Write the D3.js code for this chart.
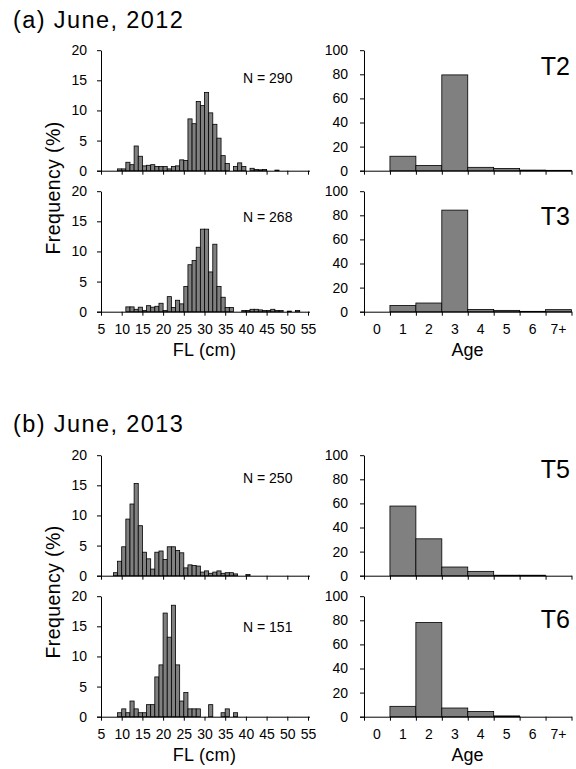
<!DOCTYPE html>
<html>
<head>
<meta charset="utf-8">
<script src="https://cdn.jsdelivr.net/npm/d3@7"></script>
<style>
    body { margin: 0; background: #fff; }
    text { font-family: "Liberation Sans", Arial, sans-serif; fill: #000; }
</style>
</head>
<body>
<div id="chart"></div>
<script>
// 体长组（cm，每组1cm，起点）
let binStart = [5, 6, 7, 8, 9, 10, 11, 12, 13, 14, 15, 16, 17, 18, 19, 20, 21, 22, 23, 24,
    25, 26, 27, 28, 29, 30, 31, 32, 33, 34, 35, 36, 37, 38, 39, 40, 41, 42, 43, 44,
    45, 46, 47, 48, 49, 50, 51, 52, 53, 54];
let flTicks = [5, 10, 15, 20, 25, 30, 35, 40, 45, 50, 55];
let freqTicks = [0, 5, 10, 15, 20];
let ageTicks = [0, 20, 40, 60, 80, 100];
let ages = ['0', '1', '2', '3', '4', '5', '6', '7+'];

// 体长频率 (%)
let flT2 = [0, 0, 0, 0, 0.3, 0.3, 1.4, 1.0, 4.1, 2.4, 0.8, 0.9, 1.0, 0.7, 0.7, 0.7, 0.3, 0.7, 0.8, 1.8,
    1.7, 8.6, 7.8, 11.5, 10.8, 13.0, 9.6, 7.7, 5.4, 2.5, 1.2, 0, 0.7, 1.3, 0.7, 0, 0.4, 0.2, 0.15, 0.2,
    0, 0, 0.1, 0, 0, 0, 0, 0, 0, 0];
let flT3 = [0, 0, 0, 0, 0, 0, 0.8, 0.8, 0.4, 0.75, 0.2, 1.0, 0.75, 0.9, 1.4, 0.2, 2.5, 0.7, 1.9, 1.3,
    4.2, 7.8, 8.5, 10.7, 13.7, 13.7, 6.6, 11.2, 4.2, 2.4, 0.7, 0.7, 0, 0, 0.2, 0.2, 0.4, 0.4, 0.3, 0.2,
    0.2, 0.4, 0.2, 0.2, 0, 0.1, 0, 0.2, 0, 0];
let flT5 = [0, 0, 0, 0.5, 2.4, 4.8, 9.4, 11.9, 15.3, 8.3, 3.9, 2.8, 1.1, 3.9, 4.1, 2.7, 4.8, 4.8, 4.2, 3.8,
    1.3, 1.8, 1.7, 1.6, 0.6, 0.8, 0.4, 0.6, 0.8, 0.4, 0.5, 0.5, 0.3, 0, 0, 0.2, 0, 0, 0, 0,
    0, 0, 0, 0, 0, 0, 0, 0, 0, 0];
let flT6 = [0, 0, 0, 0, 0.66, 1.3, 0.66, 2.6, 1.3, 0.66, 0.66, 2.0, 2.0, 6.6, 8.6, 17.2, 13.2, 18.5, 8.6, 2.6,
    4.0, 1.3, 1.3, 1.3, 0, 0, 2.0, 0, 0, 0.66, 1.3, 0, 0.66, 0, 0, 0, 0, 0, 0, 0,
    0, 0, 0, 0, 0, 0, 0, 0, 0, 0];

// 年龄组成 (%)
let ageT2 = [0, 12.0, 4.4, 79.5, 2.8, 1.9, 0.5, 0.3];
let ageT3 = [0, 5.2, 7.2, 84.3, 1.9, 1.1, 0.3, 1.7];
let ageT5 = [0, 57.8, 30.6, 7.2, 3.6, 0.4, 0.4, 0];
let ageT6 = [0, 8.6, 78.2, 7.2, 4.4, 0.66, 0, 0];

let width = 576, height = 769;
let svg = d3.select('#chart').append('svg')
    .attr('width', width)
    .attr('height', height);

let panelH = 120.5;
let xFL = d3.scaleLinear().domain([5, 55]).range([101, 308]);
let xAgeLin = d3.scaleLinear().domain([0, 8]).range([364, 571.5]);
let xAge = d3.scaleBand().domain(ages).range([364, 571.5]);

let barFill = '#808080';

function styleAxis(g, size) {
    g.selectAll('path, line').attr('stroke', '#000').attr('stroke-width', 1);
    g.selectAll('text').attr('font-size', size).attr('font-family', '"Liberation Sans", Arial, sans-serif');
}

//画左侧体长直方图
function drawHist(base, values, n, nY, showLabels) {
    let y = d3.scaleLinear().domain([0, 20]).range([base, base - panelH]);
    let g = svg.append('g');
    let data = binStart.map((b, i) => ({b: b, v: values[i]})).filter(d => d.v > 0);
    g.selectAll('rect').data(data).enter().append('rect')
        .attr('x', d => xFL(d.b))
        .attr('width', d => xFL(d.b + 1) - xFL(d.b))
        .attr('y', d => y(d.v))
        .attr('height', d => base - y(d.v))
        .attr('fill', barFill)
        .attr('stroke', '#000')
        .attr('stroke-width', 0.8);
    let ya = g.append('g').attr('transform', 'translate(101,0)')
        .call(d3.axisLeft(y).tickValues(freqTicks).tickSize(4).tickSizeOuter(0).tickPadding(10));
    styleAxis(ya, 14);
    let xa = g.append('g').attr('transform', 'translate(0,' + base + ')')
        .call(d3.axisBottom(xFL).tickValues(flTicks).tickSize(4).tickSizeOuter(0).tickPadding(8)
            .tickFormat(showLabels ? d3.format('d') : ''));
    xa.select('.domain').attr('d', 'M97,0.5H310');
    styleAxis(xa, 14);
    g.append('text').attr('x', 243).attr('y', nY)
        .attr('dominant-baseline', 'central')
        .attr('font-size', 14)
        .text('N = ' + n);
}

//画右侧年龄组成柱状图
function drawAge(base, values, label, tY, showLabels) {
    let y = d3.scaleLinear().domain([0, 100]).range([base, base - panelH]);
    let g = svg.append('g');
    let data = ages.map((a, i) => ({a: a, v: values[i]})).filter(d => d.v > 0);
    g.selectAll('rect').data(data).enter().append('rect')
        .attr('x', d => xAge(d.a))
        .attr('width', xAge.bandwidth())
        .attr('y', d => y(d.v))
        .attr('height', d => base - y(d.v))
        .attr('fill', barFill)
        .attr('stroke', '#000')
        .attr('stroke-width', 0.8);
    let ya = g.append('g').attr('transform', 'translate(364,0)')
        .call(d3.axisLeft(y).tickValues(ageTicks).tickSize(4).tickSizeOuter(0).tickPadding(12));
    styleAxis(ya, 14);
    let xa = g.append('g').attr('transform', 'translate(0,' + base + ')')
        .call(d3.axisBottom(xAgeLin).ticks(8).tickSize(4).tickSizeOuter(0).tickFormat(''));
    xa.select('.domain').attr('d', 'M360,0.5H572');
    styleAxis(xa, 14);
    if (showLabels) {
        let la = g.append('g').attr('transform', 'translate(0,' + base + ')')
            .call(d3.axisBottom(xAge).tickSize(0).tickPadding(12));
        la.select('.domain').remove();
        styleAxis(la, 14);
    }
    g.append('text').attr('x', 570).attr('y', tY)
        .attr('text-anchor', 'end')
        .attr('font-size', 25)
        .text(label);
}

function drawTitle(txt, y) {
    svg.append('text').attr('x', 13).attr('y', y)
        .attr('font-size', 23.5)
        .attr('letter-spacing', 1.4)
        .text(txt);
}

function drawAxisLabels(bottomBase, midY) {
    svg.append('text').attr('x', 204.5).attr('y', bottomBase + 44)
        .attr('text-anchor', 'middle').attr('font-size', 18).attr('letter-spacing', 0.3)
        .text('FL (cm)');
    svg.append('text').attr('x', 467.5).attr('y', bottomBase + 44)
        .attr('text-anchor', 'middle').attr('font-size', 18)
        .text('Age');
    svg.append('text')
        .attr('transform', 'translate(53,' + midY + ') rotate(-90)')
        .attr('text-anchor', 'middle').attr('dominant-baseline', 'central')
        .attr('font-size', 19.5).attr('letter-spacing', 0.4)
        .text('Frequency (%)');
}

// (a) 2012
drawTitle('(a) June, 2012', 28);
drawHist(170.7, flT2, 290, 78, false);
drawHist(311.7, flT3, 268, 216.7, true);
drawAge(170.7, ageT2, 'T2', 75, false);
drawAge(311.7, ageT3, 'T3', 225, true);
drawAxisLabels(311.7, 188);

// (b) 2013
drawTitle('(b) June, 2013', 432);
drawHist(575.7, flT5, 250, 478.3, false);
drawHist(716.7, flT6, 151, 626.7, true);
drawAge(575.7, ageT5, 'T5', 478.3, false);
drawAge(716.7, ageT6, 'T6', 628.3, true);
drawAxisLabels(716.7, 592);
</script>
</body>
</html>
